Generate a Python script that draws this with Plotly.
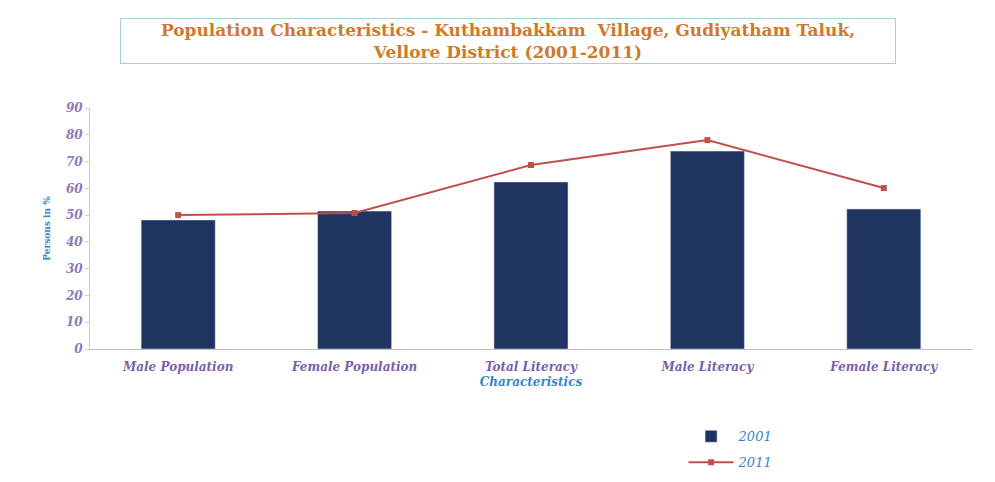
import plotly.graph_objects as go

categories = ["Male Population", "Female Population", "Total Literacy", "Male Literacy", "Female Literacy"]
values_2001 = [48.2, 51.5, 62.4, 73.9, 52.3]
values_2011 = [50.0, 50.8, 68.7, 78.0, 60.1]
y_ticks = [0, 10, 20, 30, 40, 50, 60, 70, 80, 90]

tick_font = dict(family="DejaVu Serif", size=12, color="#7a5fa8")
title_font = dict(family="DejaVu Serif", size=12, color="#3a86c4")

fig = go.Figure()
fig.add_trace(go.Bar(
    x=categories, y=values_2001, name="<i>2001</i>",
    marker=dict(color="#1f3461"), width=0.42, legendgroup="a",
))
fig.add_trace(go.Scatter(
    x=categories, y=values_2011, name="<i>2011</i>", mode="lines+markers",
    line=dict(color="#c0504d", width=2),
    marker=dict(symbol="square", size=6, color="#c0504d"), legendgroup="b",
))

fig.update_layout(
    width=995, height=482,
    margin=dict(l=90, r=23, t=108, b=133, autoexpand=False),
    paper_bgcolor="white", plot_bgcolor="white",
    showlegend=True,
    legend=dict(x=0.673, y=-0.30, xanchor="left", yanchor="top",
                font=dict(family="DejaVu Serif", size=13, color="#3a86c4"),
                tracegroupgap=6, itemwidth=45, bgcolor="rgba(0,0,0,0)"),
    font=dict(family="DejaVu Serif"),
)
fig.update_xaxes(
    tickfont=tick_font, tickangle=0,
    tickvals=categories,
    ticktext=["<b><i>%s</i></b>" % c for c in categories],
    title=dict(text="<b><i>Characteristics</i></b>", font=title_font, standoff=4),
    showline=True, linecolor="#bfbfbf", linewidth=1,
    ticks="outside", ticklen=7, tickcolor="rgba(0,0,0,0)",
    showgrid=False, automargin=False,
)
fig.update_yaxes(
    range=[0, 90], tickvals=y_ticks,
    ticktext=["<b><i>%d</i></b>" % v for v in y_ticks],
    tickfont=dict(family="DejaVu Serif", size=12, color="#8a7cb8"),
    title=dict(text="<b>Persons in %</b>", font=dict(family="DejaVu Serif", size=9, color="#3a86c4"), standoff=12),
    showline=True, linecolor="#d0d0d0", linewidth=1,
    ticks="outside", ticklen=4, tickcolor="#d0d0d0",
    showgrid=False, zeroline=False, automargin=False,
)

fig.add_annotation(
    xref="paper", yref="paper", x=0.474, y=1.0, yanchor="bottom", yshift=44, xanchor="center",
    text="<b>Population Characteristics - Kuthambakkam  Village, Gudiyatham Taluk,<br>Vellore District (2001-2011)</b>",
    showarrow=False, align="center",
    font=dict(family="DejaVu Serif", size=17, color="#d0792a"),
    bordercolor="#9fd3d8", borderwidth=1, borderpad=1, bgcolor="white",
    width=772,
)

fig.write_html("out.html")
